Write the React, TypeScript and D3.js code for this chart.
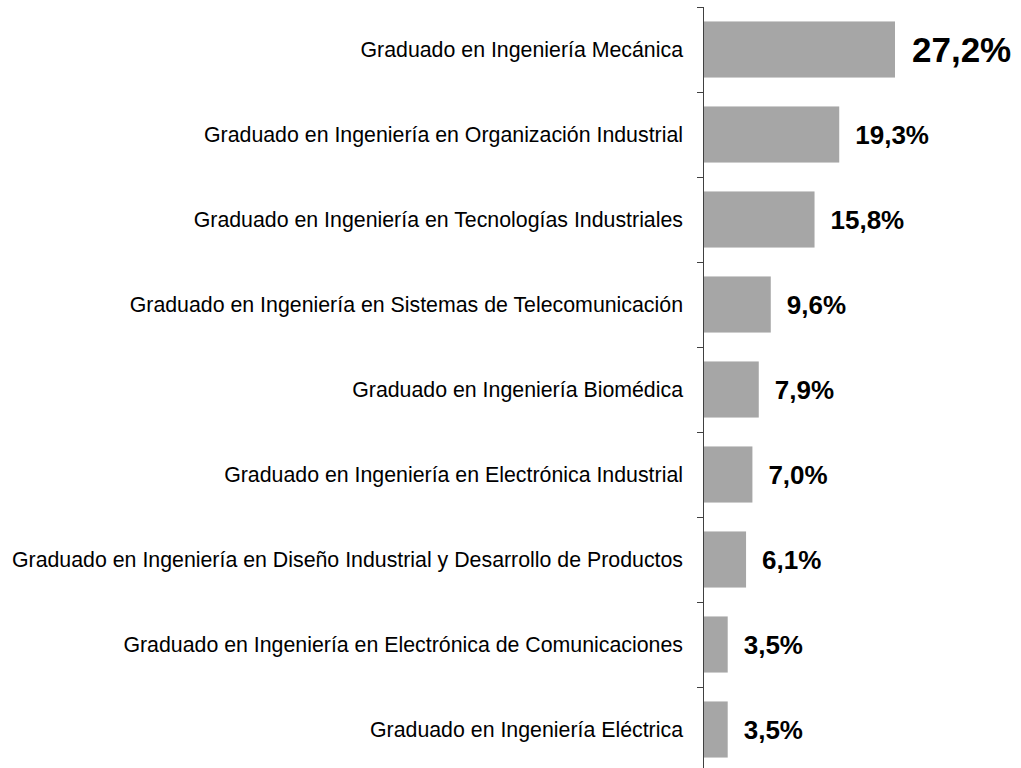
import { useEffect, useRef } from "react";
import * as d3 from "d3";

const categories = [
  "Graduado en Ingeniería Mecánica",
  "Graduado en Ingeniería en Organización Industrial",
  "Graduado en Ingeniería en Tecnologías Industriales",
  "Graduado en Ingeniería en Sistemas de Telecomunicación",
  "Graduado en Ingeniería Biomédica",
  "Graduado en Ingeniería en Electrónica Industrial",
  "Graduado en Ingeniería en Diseño Industrial y Desarrollo de Productos",
  "Graduado en Ingeniería en Electrónica de Comunicaciones",
  "Graduado en Ingeniería Eléctrica"
];

const values = [27.2, 19.3, 15.8, 9.6, 7.9, 7.0, 6.1, 3.5, 3.5];

const FONT = "'Liberation Sans', Arial, sans-serif";

export default function App() {
  const ref = useRef<SVGSVGElement>(null);

  useEffect(() => {
    const svg = d3.select(ref.current);
    svg.selectAll("*").remove();

    const width = 1021;
    const height = 768;
    const axisX = 703;

    svg.attr("width", width).attr("height", height);

    const y = d3.scaleBand<string>()
      .domain(categories)
      .range([7, 772])
      .paddingInner(0.34)
      .paddingOuter(0.17);

    const x = d3.scaleLinear()
      .domain([0, 27.2])
      .range([axisX, 895]);

    const maxVal = d3.max(values) as number;

    // bars
    svg.append("g")
      .selectAll("rect")
      .data(categories)
      .join("rect")
      .attr("x", x(0))
      .attr("y", d => y(d)!)
      .attr("width", (d, i) => x(values[i]) - x(0))
      .attr("height", y.bandwidth())
      .attr("fill", "#a6a6a6");

    // axis line and ticks at band boundaries
    const gap = (y.step() - y.bandwidth()) / 2;
    const boundaries = categories.map(c => y(c)! - gap);
    boundaries.push(y(categories[categories.length - 1])! + y.bandwidth() + gap);

    const axis = svg.append("g");
    axis.append("line")
      .attr("x1", axisX + 0.5)
      .attr("x2", axisX + 0.5)
      .attr("y1", boundaries[0])
      .attr("y2", height)
      .attr("stroke", "#404040")
      .attr("stroke-width", 1);

    axis.selectAll("line.tick")
      .data(boundaries)
      .join("line")
      .attr("class", "tick")
      .attr("x1", axisX - 6)
      .attr("x2", axisX + 0.5)
      .attr("y1", d => Math.round(d) + 0.5)
      .attr("y2", d => Math.round(d) + 0.5)
      .attr("stroke", "#404040")
      .attr("stroke-width", 1);

    // category labels
    svg.append("g")
      .selectAll("text")
      .data(categories)
      .join("text")
      .attr("x", axisX - 20)
      .attr("y", d => y(d)! + y.bandwidth() / 2)
      .attr("dy", "0.35em")
      .attr("text-anchor", "end")
      .attr("font-family", FONT)
      .attr("font-size", "21.33px")
      .attr("fill", "#000")
      .text(d => d);

    // value labels
    svg.append("g")
      .selectAll("text")
      .data(categories)
      .join("text")
      .attr("x", (d, i) => x(values[i]) + (values[i] === maxVal ? 17 : 16))
      .attr("y", d => y(d)! + y.bandwidth() / 2)
      .attr("dy", "0.35em")
      .attr("font-family", FONT)
      .attr("font-weight", "bold")
      .attr("font-size", (d, i) => (values[i] === maxVal ? "35px" : "26px"))
      .attr("fill", "#000")
      .text((d, i) => values[i].toFixed(1).replace(".", ",") + "%");
  }, []);

  return (
    <div style={{ position: "absolute", left: 0, top: 0 }}>
      <svg ref={ref} style={{ display: "block" }}></svg>
    </div>
  );
}
